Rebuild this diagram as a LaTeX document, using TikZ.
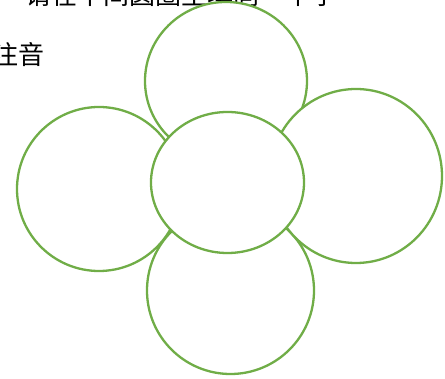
\documentclass[tikz,border=0pt]{standalone}
\usepackage{fontspec}
\newfontfamily\cjk{Noto Sans CJK SC}
\definecolor{leafgreen}{RGB}{112,173,71}
\tikzset{petal/.style={draw=leafgreen,line width=2.3pt,fill=white}}
\begin{document}
\begin{tikzpicture}[x=1pt,y=-1pt]
 \useasboundingbox (0,0) rectangle (445,379);
 \clip (0,0) rectangle (445,379);
%% question text, cut off at the top
 \node[anchor=west,inner sep=0pt,font=\cjk\fontsize{26pt}{28pt}\selectfont] (qline) at (-2,-5) {—\,请在中间圆圈里填同一个字};
 \node[anchor=west,inner sep=0pt,font=\cjk\fontsize{26pt}{28pt}\selectfont] (pinyin) at (-8,55) {注音};
%% outer circles
  \draw[petal] (226,81) ellipse (81pt and 79pt);
  \draw[petal] (230.5,290.5) circle (83.5pt);
  \draw[petal] (99,189) circle (82pt);
  \draw[petal] (356,176) ellipse (86pt and 87pt);
%% middle circle
  \draw[petal] (227.5,182.5) ellipse (76.5pt and 70.5pt);
\end{tikzpicture}
\end{document}
